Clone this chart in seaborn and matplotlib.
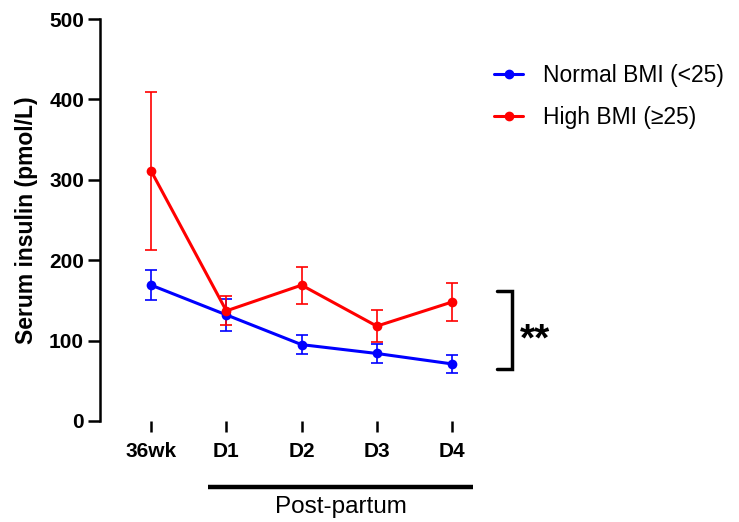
import matplotlib
matplotlib.use("Agg")
import matplotlib.pyplot as plt
from matplotlib.lines import Line2D
import seaborn as sns
import pandas as pd
import numpy as np

timepoints = ["36wk", "D1", "D2", "D3", "D4"]
normal_mean = [169, 132, 95, 84, 71]
normal_err = [19, 20, 12, 12, 11.5]
high_mean = [311, 137, 169, 118, 148]
high_err = [98, 18, 23, 20, 23.5]
y_ticks = [0, 100, 200, 300, 400, 500]

sns.set_theme(style="white")
plt.rcParams["font.family"] = ["Liberation Sans", "DejaVu Sans"]
plt.rcParams["text.color"] = "black"
plt.rcParams["axes.labelcolor"] = "black"
plt.rcParams["xtick.color"] = "black"
plt.rcParams["ytick.color"] = "black"

fig = plt.figure(figsize=(7.39, 5.22), dpi=100)
ax = fig.add_axes([0.1353, 0.1935, 0.514, 0.770])

pos = np.arange(len(timepoints))
df = pd.DataFrame({
    "pos": np.concatenate([pos, pos]),
    "insulin": normal_mean + high_mean,
    "group": ["Normal BMI (<25)"] * len(pos) + ["High BMI (\u226525)"] * len(pos),
})
palette = {"Normal BMI (<25)": "#0000FF", "High BMI (\u226525)": "#FF0000"}

ax.errorbar(pos, normal_mean, yerr=normal_err, fmt="none", ecolor="#0000FF",
            elinewidth=1.2, capsize=4, capthick=1.2, zorder=2)
ax.errorbar(pos, high_mean, yerr=high_err, fmt="none", ecolor="#FF0000",
            elinewidth=1.2, capsize=4, capthick=1.2, zorder=2)
sns.lineplot(data=df, x="pos", y="insulin", hue="group", palette=palette,
             marker="o", markersize=7, markeredgewidth=0, linewidth=2.2,
             ax=ax, zorder=3, legend=False)

ax.set_xlim(-0.68, 4.37)
ax.set_ylim(0, 500)
ax.set_yticks(y_ticks)
ax.set_xticks(pos)
ax.set_xticklabels(timepoints, fontsize=15, fontweight="bold")
ax.set_yticklabels([str(t) for t in y_ticks], fontsize=15, fontweight="bold")
ax.set_xlabel("")
ax.set_ylabel("Serum insulin (pmol/L)", fontsize=16.5, fontweight="bold", labelpad=8)

for s in ["top", "right", "bottom"]:
    ax.spines[s].set_visible(False)
ax.spines["left"].set_linewidth(1.8)
ax.spines["left"].set_color("black")
ax.tick_params(axis="y", direction="out", length=8.5, width=1.8, color="black", pad=3, left=True)
ax.tick_params(axis="x", direction="out", length=8, width=1.8, color="black", pad=7, bottom=True)

# legend
handles = [Line2D([0], [0], color=c, lw=2.2, marker="o", markersize=6) for c in palette.values()]
fig.legend(handles, list(palette.keys()), loc="upper left", bbox_to_anchor=(0.668, 0.878),
           frameon=False, fontsize=16.5, handlelength=1.3, handletextpad=0.85,
           labelspacing=0.85, borderpad=0, borderaxespad=0)

# post-partum bar under D1-D4
ax.plot([0.76, 4.28], [-82, -82], color="black", lw=3.2, clip_on=False, solid_capstyle="butt")
ax.text(2.52, -93, "Post-partum", ha="center", va="top", fontsize=17.5)

# significance bracket
ax.plot([4.6, 4.8, 4.8, 4.6], [162, 162, 65, 65], color="black", lw=2.5, clip_on=False,
        solid_joinstyle="miter")
ax.text(4.9, 100, "**", ha="left", va="center", fontsize=28, fontweight="bold")

fig.savefig("out.png", dpi=100)
